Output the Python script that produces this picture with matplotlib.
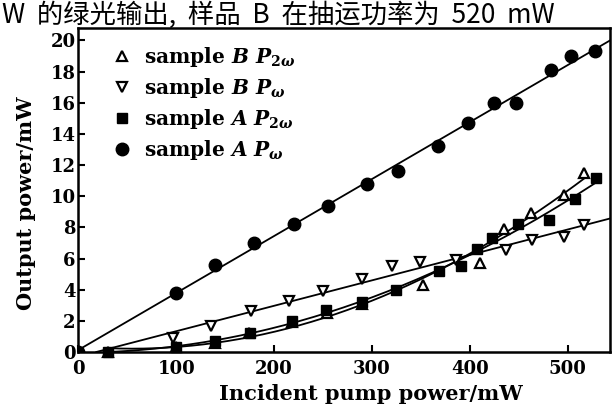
import numpy as np
import matplotlib
matplotlib.use("Agg")
from matplotlib import pyplot as plt

plt.rcParams["font.family"] = "DejaVu Serif"
plt.rcParams["font.weight"] = "bold"
plt.rcParams["mathtext.fontset"] = "custom"
plt.rcParams["mathtext.rm"] = "DejaVu Serif:bold"
plt.rcParams["mathtext.it"] = "DejaVu Serif:italic:bold"
plt.rcParams["mathtext.bf"] = "DejaVu Serif:bold"

# sample A, fundamental (P_w)
a_w_x = [0, 100, 140, 180, 220, 255, 295, 327, 367, 398, 425, 447, 483, 503, 528]
a_w_y = [0, 3.8, 5.6, 7.0, 8.2, 9.35, 10.8, 11.6, 13.2, 14.7, 16.0, 16.0, 18.1, 19.0, 19.3]

# sample B, fundamental (P_w)
b_w_x = [97, 136, 176, 215, 250, 290, 320, 349, 386, 437, 463, 496, 517]
b_w_y = [0.9, 1.65, 2.6, 3.3, 3.9, 4.7, 5.5, 5.8, 5.9, 6.55, 7.2, 7.4, 8.15]

# sample B, second harmonic (P_2w)
b_2w_x = [30, 100, 140, 174, 218, 254, 290, 352, 410, 435, 462, 496, 517]
b_2w_y = [0, 0.3, 0.6, 1.2, 1.9, 2.5, 3.1, 4.3, 5.7, 7.9, 8.9, 10.1, 11.5]

# sample A, second harmonic (P_2w)
a_2w_x = [30, 100, 140, 175, 218, 253, 290, 325, 368, 391, 407, 423, 449, 481, 507, 529]
a_2w_y = [0, 0.3, 0.7, 1.2, 2.0, 2.7, 3.2, 4.0, 5.2, 5.5, 6.6, 7.3, 8.2, 8.5, 9.8, 11.2]

x_ticks = [0, 100, 200, 300, 400, 500]
y_ticks = [0, 2, 4, 6, 8, 10, 12, 14, 16, 18, 20]


def main():
    fig = plt.figure(figsize=(6.16, 4.11), dpi=100)
    ax = fig.add_axes([0.127, 0.1436, 0.863, 0.7884])

    # fitted lines
    xx = np.linspace(0, 545, 200)
    p = np.polyfit(a_w_x, a_w_y, 1)
    ax.plot(xx, np.polyval(p, xx), color="black", lw=1.3)
    p = np.polyfit(b_w_x, b_w_y, 1)
    x0 = -p[1] / p[0]
    xx = np.linspace(x0, 545, 200)
    ax.plot(xx, np.polyval(p, xx), color="black", lw=1.3)
    for xs, ys in [(b_2w_x, b_2w_y), (a_2w_x, a_2w_y)]:
        p = np.polyfit(xs, ys, 2)
        xx = np.linspace(xs[0], xs[-1], 200)
        ax.plot(xx, np.clip(np.polyval(p, xx), 0, None), color="black", lw=1.3)

    ax.plot(b_2w_x, b_2w_y, "^", ms=7, mfc="white", mec="black", mew=1.6,
            ls="none", label=r"sample $B$ $P_{2\omega}$", clip_on=False)
    ax.plot(b_w_x, b_w_y, "v", ms=7, mfc="white", mec="black", mew=1.6,
            ls="none", label=r"sample $B$ $P_{\omega}$")
    ax.plot(a_2w_x, a_2w_y, "s", ms=7, color="black",
            ls="none", label=r"sample $A$ $P_{2\omega}$", clip_on=False)
    ax.plot(a_w_x, a_w_y, "o", ms=9, color="black",
            ls="none", label=r"sample $A$ $P_{\omega}$")

    ax.set_xlim(0, 543)
    ax.set_ylim(0, 20.8)
    ax.set_xticks(x_ticks)
    ax.set_yticks(y_ticks)
    ax.tick_params(direction="in", length=5, width=1.5, labelsize=13)
    ax.tick_params(axis="x", pad=6)
    ax.tick_params(axis="y", pad=2)
    for s in ax.spines.values():
        s.set_linewidth(1.8)

    ax.set_xlabel("Incident pump power/mW", fontsize=15, fontweight="bold")
    ax.xaxis.set_label_coords(0.55, -0.1)
    ax.set_ylabel("Output power/mW", fontsize=15, fontweight="bold")
    ax.yaxis.set_label_coords(-0.08, 0.46)

    ax.legend(loc="upper left", frameon=False, fontsize=14.5, handletextpad=0.6,
              handlelength=1.0, labelspacing=0.35, borderaxespad=0.2,
              bbox_to_anchor=(0.04, 0.985))

    # line of article text above the figure
    fig.text(0.004, 1 - 23 / 411, "W  的绿光输出,  样品  B  在抽运功率为  520  mW",
             fontsize=19, fontweight="normal", va="baseline", ha="left",
             family=["Noto Sans CJK SC", "DejaVu Serif"])

    fig.savefig("out.png", dpi=100)


if __name__ == "__main__":
    main()
